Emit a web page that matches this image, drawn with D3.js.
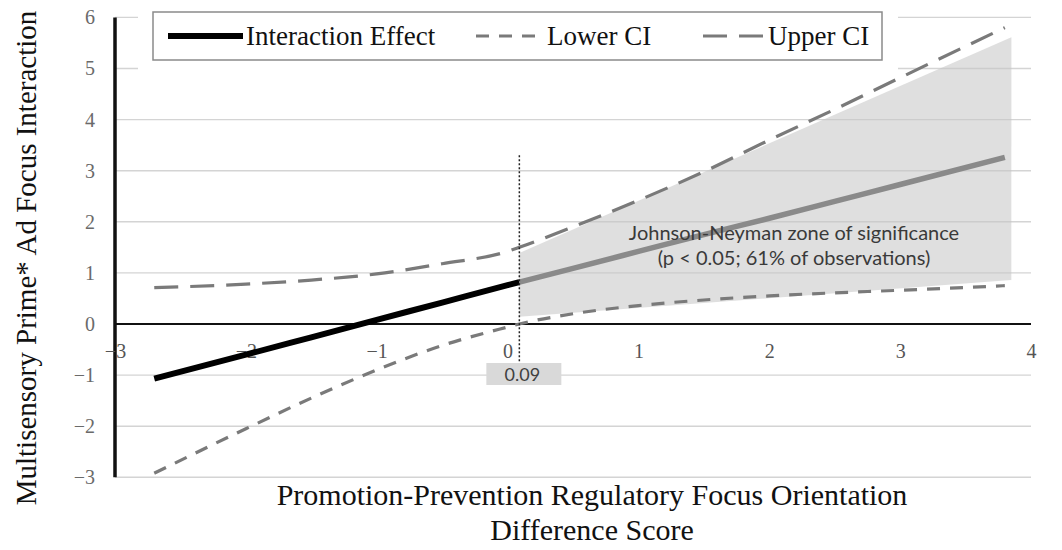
<!DOCTYPE html>
<html>
<head>
<meta charset="utf-8">
<script src="https://cdn.jsdelivr.net/npm/d3@7"></script>
<style>
  body { margin: 0; background: #fff; }
  svg { display: block; }
</style>
</head>
<body>
<svg id="chart" width="1062" height="550"></svg>
<script>
// Moderator values (promotion-prevention difference score)
const moderator = [-2.7, -2, -1.5, -1, -0.5, 0, 0.09, 0.5, 1, 1.5, 2, 2.5, 3, 3.8];
// Conditional interaction effect and its 95% CI bounds
const interactionEffect = [-1.07, -0.60, -0.26, 0.08, 0.42, 0.76, 0.82, 1.09, 1.42, 1.75, 2.07, 2.40, 2.73, 3.26];
const lowerCI = [-2.92, -2.05, -1.45, -0.90, -0.42, -0.06, 0.00, 0.20, 0.36, 0.47, 0.55, 0.61, 0.66, 0.75];
const upperCI = [0.71, 0.78, 0.86, 0.98, 1.18, 1.42, 1.50, 1.90, 2.42, 2.98, 3.60, 4.20, 4.82, 5.80];

// Johnson-Neyman point and the shaded region of significance
const jnPoint = 0.09;
const zoneX = [0.09, 3.85];
const zoneTop = [1.39, 5.61];
const zoneBottom = [0.14, 0.86];

const xTicks = [-3, -2, -1, 0, 1, 2, 3, 4];
const yTicks = [-3, -2, -1, 0, 1, 2, 3, 4, 5, 6];
const legendLabels = ["Interaction Effect", "Lower CI", "Upper CI"];
const yTitle = "Multisensory Prime* Ad Focus Interaction";
const xTitle = ["Promotion-Prevention Regulatory Focus Orientation", "Difference Score"];
const zoneText = ["Johnson-Neyman zone of significance", "(p < 0.05; 61% of observations)"];

const svg = d3.select("#chart");
const serif = "'Liberation Serif', 'Times New Roman', serif";
const sans = "Lato, 'Open Sans', sans-serif";

const x = d3.scaleLinear().domain([-3, 4]).range([115, 1031]);
const y = d3.scaleLinear().domain([-3, 6]).range([477.3, 17.4]);

// horizontal gridlines
svg.append("g").selectAll("line").data(yTicks.filter(d => d !== 0)).join("line")
  .attr("x1", x(-3)).attr("x2", x(4))
  .attr("y1", d => y(d)).attr("y2", d => y(d))
  .attr("stroke", "#d4d4d4").attr("stroke-width", 1.4);

// shaded Johnson-Neyman zone
const zone = [
  [zoneX[0], zoneTop[0]], [zoneX[1], zoneTop[1]],
  [zoneX[1], zoneBottom[1]], [zoneX[0], zoneBottom[0]]
];
svg.append("path")
  .attr("d", d3.line().x(d => x(d[0])).y(d => y(d[1]))(zone) + "Z")
  .attr("fill", "#c4c4c4").attr("fill-opacity", 0.55);

// zero line
svg.append("line")
  .attr("x1", x(-3)).attr("x2", x(4)).attr("y1", y(0)).attr("y2", y(0))
  .attr("stroke", "#111").attr("stroke-width", 2);

// y axis
const yAxis = d3.axisLeft(y).tickValues(yTicks).tickSize(0).tickPadding(20)
  .tickFormat(d => d < 0 ? "\u2212" + Math.abs(d) : d);
const gy = svg.append("g").attr("transform", `translate(${x(-3)},0)`).call(yAxis);
gy.select(".domain").remove();
gy.selectAll("text").attr("font-family", serif).attr("font-size", 20).attr("fill", "#6a6a6a");
svg.append("line")
  .attr("x1", x(-3)).attr("x2", x(-3)).attr("y1", y(6)).attr("y2", y(-3))
  .attr("stroke", "#111").attr("stroke-width", 3.5);

// x axis tick labels, placed just under the zero line
const xAxis = d3.axisBottom(x).tickValues(xTicks).tickSize(0).tickPadding(20)
  .tickFormat(d => d < 0 ? "\u2212" + Math.abs(d) : d);
const gx = svg.append("g").attr("transform", `translate(0,${y(0)})`).call(xAxis);
gx.select(".domain").remove();
gx.selectAll("text").attr("font-family", serif).attr("font-size", 20).attr("fill", "#555");

// series lines
const pts = vals => moderator.map((m, i) => [m, vals[i]]);
const line = d3.line().x(d => x(d[0])).y(d => y(d[1])).curve(d3.curveMonotoneX);

svg.append("path").attr("d", line(pts(lowerCI)))
  .attr("fill", "none").attr("stroke", "#7a7a7a").attr("stroke-width", 3.2)
  .attr("stroke-dasharray", "13,10");
svg.append("path").attr("d", line(pts(upperCI)))
  .attr("fill", "none").attr("stroke", "#7a7a7a").attr("stroke-width", 3.2)
  .attr("stroke-dasharray", "24,12");

const effectPts = pts(interactionEffect);
svg.append("path").attr("d", line(effectPts.filter(d => d[0] <= jnPoint)))
  .attr("fill", "none").attr("stroke", "#000").attr("stroke-width", 6);
svg.append("path").attr("d", line(effectPts.filter(d => d[0] >= jnPoint)))
  .attr("fill", "none").attr("stroke", "#8a8a8a").attr("stroke-width", 5.5);

// Johnson-Neyman marker
svg.append("line")
  .attr("x1", x(jnPoint)).attr("x2", x(jnPoint))
  .attr("y1", y(3.3)).attr("y2", 385)
  .attr("stroke", "#222").attr("stroke-width", 1.5).attr("stroke-dasharray", "2,2");
svg.append("rect")
  .attr("x", x(jnPoint) - 33).attr("y", 363).attr("width", 75).attr("height", 22)
  .attr("fill", "#d9d9d9");
svg.append("text")
  .attr("x", x(jnPoint) + 3).attr("y", 381).attr("text-anchor", "middle")
  .attr("font-family", sans).attr("font-size", 18).attr("fill", "#404040")
  .text(jnPoint.toFixed(2));

// zone annotation
svg.append("text").attr("text-anchor", "middle")
  .attr("font-family", sans).attr("font-size", 20).attr("fill", "#3a3a3a")
  .selectAll("tspan").data(zoneText).join("tspan")
  .attr("x", 794).attr("y", (d, i) => 240 + i * 25).text(d => d);

// legend
svg.append("rect").attr("x", 138).attr("y", 0).attr("width", 760).attr("height", 76).attr("fill", "#fff");
svg.append("rect").attr("x", 153).attr("y", 12).attr("width", 729).attr("height", 48)
  .attr("fill", "#fff").attr("stroke", "#8a8a8a").attr("stroke-width", 1.5);
const legendItems = [
  { x1: 168, x2: 243, tx: 246, color: "#000", w: 6, dash: null },
  { x1: 476, x2: 545, tx: 547, color: "#7a7a7a", w: 3.2, dash: "13,10" },
  { x1: 703, x2: 767, tx: 768, color: "#7a7a7a", w: 3.2, dash: "24,12" }
];
legendItems.forEach((it, i) => {
  svg.append("line").attr("x1", it.x1).attr("x2", it.x2).attr("y1", 36).attr("y2", 36)
    .attr("stroke", it.color).attr("stroke-width", it.w)
    .attr("stroke-dasharray", it.dash);
  svg.append("text").attr("x", it.tx).attr("y", 45)
    .attr("font-family", serif).attr("font-size", 27).attr("fill", "#111")
    .text(legendLabels[i]);
});

// axis titles
svg.append("text")
  .attr("transform", "translate(36,258) rotate(-90)")
  .attr("text-anchor", "middle")
  .attr("font-family", serif).attr("font-size", 29).attr("fill", "#111")
  .text(yTitle);
svg.append("text").attr("text-anchor", "middle")
  .attr("font-family", serif).attr("font-size", 30).attr("fill", "#111")
  .selectAll("tspan").data(xTitle).join("tspan")
  .attr("x", 592).attr("y", (d, i) => 505 + i * 35).text(d => d);
</script>
</body>
</html>
